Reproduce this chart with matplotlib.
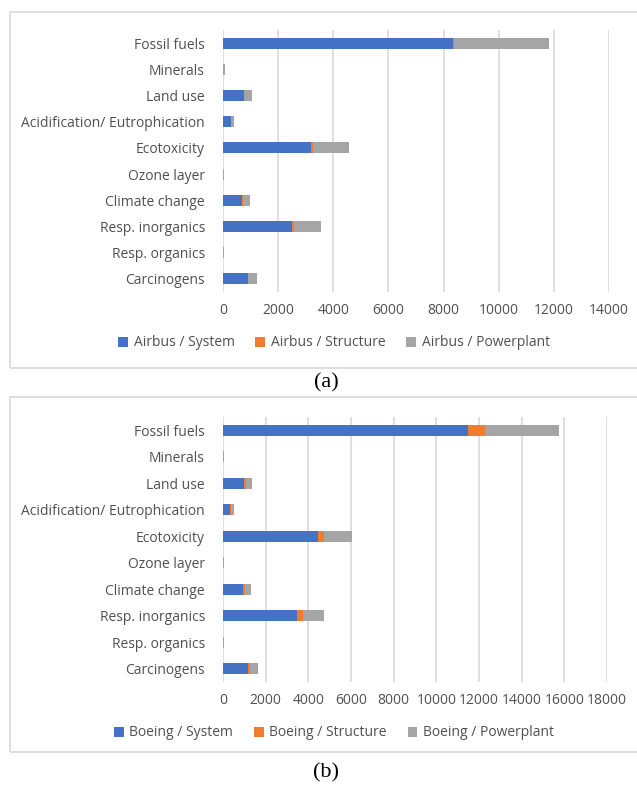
import numpy as np
import matplotlib.pyplot as plt
from matplotlib.patches import Rectangle

categories = ['Fossil fuels', 'Minerals', 'Land use', 'Acidification/ Eutrophication',
              'Ecotoxicity', 'Ozone layer', 'Climate change', 'Resp. inorganics',
              'Resp. organics', 'Carcinogens']

# panel (a) Airbus
airbus_system = [8350, 10, 750, 280, 3200, 5, 700, 2520, 5, 890]
airbus_structure = [30, 2, 10, 5, 50, 1, 10, 50, 1, 10]
airbus_powerplant = [3430, 50, 290, 115, 1310, 40, 270, 1000, 40, 330]

# panel (b) Boeing
boeing_system = [11470, 10, 980, 340, 4440, 5, 940, 3470, 5, 1170]
boeing_structure = [800, 2, 95, 50, 300, 1, 80, 265, 1, 95]
boeing_powerplant = [3480, 50, 300, 125, 1330, 40, 280, 1015, 40, 390]

colors = ['#4472C4', '#ED7D31', '#A5A5A5']
txt = '#505050'
plt.rcParams['font.family'] = ['Open Sans', 'DejaVu Sans']

fig = plt.figure(figsize=(6.37, 7.85), dpi=100)
W, H = 637, 785


def panel(rect_px, box_px, series, names, xmax, leg_y, caption, cap_y):
    l, t, r, b = rect_px
    ax = fig.add_axes([l / W, 1 - b / H, (r - l) / W, (b - t) / H])
    y = np.arange(len(categories))
    left = np.zeros(len(categories))
    handles = []
    for vals, c, n in zip(series, colors, names):
        h = ax.barh(y, vals, left=left, height=0.42, color=c, label=n)
        left += np.array(vals)
        handles.append(h)
    ax.set_ylim(len(categories) - 0.5, -0.5)
    ax.set_xlim(0, xmax)
    ax.set_xticks(np.arange(0, xmax + 1, 2000))
    ax.set_yticks(y)
    ax.set_yticklabels(categories)
    ax.tick_params(axis='both', length=0, labelsize=10, colors=txt)
    ax.tick_params(axis='y', pad=13)
    ax.tick_params(axis='x', pad=8)
    ax.xaxis.grid(True, color='#D9D9D9', linewidth=1.2)
    ax.set_axisbelow(True)
    for s in ax.spines.values():
        s.set_visible(False)
    bx0, by0, bx1, by1 = box_px
    fig.patches.append(Rectangle((bx0 / W, 1 - by1 / H), (bx1 - bx0) / W, (by1 - by0) / H,
                                 transform=fig.transFigure, fill=False,
                                 edgecolor='#D9D9D9', linewidth=1.2))
    fig.legend(handles=handles, loc='center', bbox_to_anchor=(334 / W, 1 - leg_y / H),
               ncol=3, frameon=False, fontsize=10, labelcolor=txt,
               handlelength=0.7, handleheight=0.7, handletextpad=0.4, columnspacing=1.5)
    fig.text(326 / W, 1 - cap_y / H, caption, ha='center', va='center',
             fontsize=16, family='Liberation Serif', color='black')


panel((223, 30, 609, 292), (10, 12, 640, 368),
      [airbus_system, airbus_structure, airbus_powerplant],
      ['Airbus / System', 'Airbus / Structure', 'Airbus / Powerplant'],
      14000, 343, '(a)', 383)
panel((223, 417, 607, 682), (10, 397, 640, 752),
      [boeing_system, boeing_structure, boeing_powerplant],
      ['Boeing / System', 'Boeing / Structure', 'Boeing / Powerplant'],
      18000, 733, '(b)', 773)

fig.savefig('out.png', dpi=100)
